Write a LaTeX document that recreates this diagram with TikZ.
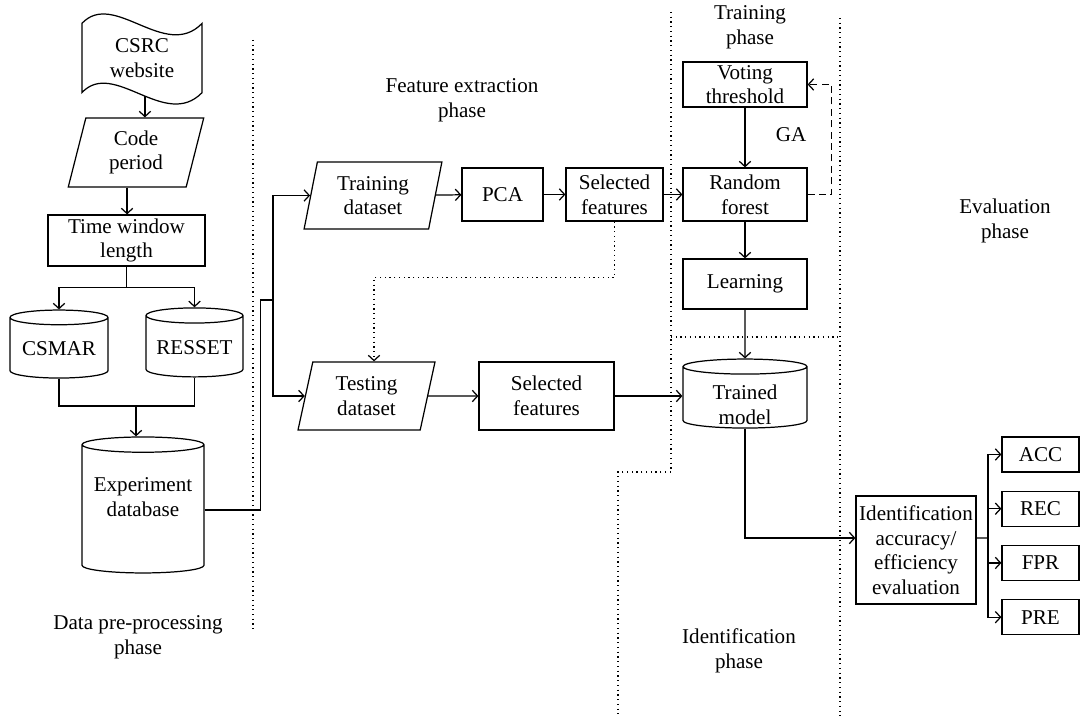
\documentclass[tikz,border=0pt]{standalone}
\usepackage{fontspec}
\setmainfont{Liberation Serif}
\usetikzlibrary{shapes.geometric,arrows.meta,positioning}
\tikzset{
    process/.style={
        draw,
        rectangle,
        align=center,
        inner sep=1pt
    },
    dataio/.style={
        draw,
        trapezium,
        trapezium left angle=78,
        trapezium right angle=102,
        trapezium stretches=true,
        align=center,
        inner sep=1pt
    },
    database/.style={
        draw,
        cylinder,
        shape border rotate=90,
        aspect=0.19,
        align=center,
        inner sep=1pt
    },
    caption/.style={
        align=center,
        inner sep=0pt
    },
    arrow/.style={
        ->,
        >={Straight Barb[length=3pt,width=6.5pt]}
    },
    dotarrow/.style={
        arrow,
        dotted
    },
    dasharrow/.style={
        arrow,
        dash pattern=on 4pt off 2.5pt
    },
    phase/.style={
        dotted
    }
}

\begin{document}
\begin{tikzpicture}[x=0.02cm, y=-0.02cm, line width=0.7pt, font=\fontsize{12}{14}\selectfont]
    \useasboundingbox (0,0) rectangle (1081,716);

    % Phase separators
    \draw[phase] (253,40) -- (253,630);
    \draw[phase] (671,12) -- (671,472) -- (618,472) -- (618,716);
    \draw[phase] (671,337) -- (840,337);
    \draw[phase] (840,18) -- (840,716);

    % Phase titles
    \node[caption] (preproc) at (138,637) {Data pre-processing\\phase};
    \node[caption] (featext) at (462,100) {Feature extraction\\phase};
    \node[caption] (trainph) at (750,27) {Training\\phase};
    \node[caption] (evalph) at (1005,221) {Evaluation\\phase};
    \node[caption] (identph) at (739,651) {Identification\\phase};

    % Data pre-processing
    \node[caption, minimum width=2.38cm, minimum height=1.36cm] (csrc) at (142,58) {CSRC\\website};
    \draw (csrc.north west) .. controls +(32,-34) and +(-37,38) .. (csrc.north east)
        -- (csrc.south east) .. controls +(-37,38) and +(32,-34) .. (csrc.south west) -- cycle;
    \node[dataio, minimum width=2.72cm, minimum height=1.38cm] (code) at (136,152.5) {Code\\period};
    \node[process, minimum width=3.14cm, minimum height=1.02cm] (twl) at (126.5,240.5) {Time window\\length};
    \node[database, minimum width=1.96cm, minimum height=1.36cm] (csmar) at (59,349) {CSMAR};
    \node[database, minimum width=1.94cm, minimum height=1.38cm] (resset) at (194.5,347.5) {RESSET};
    \node[database, aspect=0.15, minimum width=2.44cm, minimum height=2.72cm] (expdb) at (143,510) {\phantom{Experiment}};
    \node[caption] (expdbtext) at (143,497) {Experiment\\database};

    % Feature extraction
    \node[dataio, minimum width=2.76cm, minimum height=1.34cm] (train) at (373,195.5) {Training\\dataset};
    \node[process, minimum width=1.62cm, minimum height=1.06cm] (pca) at (502.5,194.5) {PCA};
    \node[process, minimum width=1.94cm, minimum height=1.06cm] (sel1) at (614.5,194.5) {Selected\\features};
    \node[dataio, minimum width=2.74cm, minimum height=1.36cm] (test) at (366.5,396) {Testing\\dataset};
    \node[process, minimum width=2.70cm, minimum height=1.36cm] (sel2) at (546.5,396) {Selected\\features};

    % Training
    \node[process, minimum width=2.48cm, minimum height=0.9cm] (vote) at (745,84.5) {Voting\\threshold};
    \node[process, minimum width=2.48cm, minimum height=1.06cm] (rf) at (745,194.5) {Random\\forest};
    \node[process, minimum width=2.48cm, minimum height=1cm] (learn) at (745,284) {Learning};
    \node[caption] (ga) at (791,135) {GA};

    % Identification and evaluation
    \node[database, aspect=0.22, minimum width=2.48cm, minimum height=1.38cm] (trained) at (745,398.5) {\phantom{Trained}};
    \node[caption] (trainedtext) at (745,405) {Trained\\model};
    \node[process, minimum width=2.4cm, minimum height=2.16cm] (ident) at (916,550) {Identification\\accuracy/\\efficiency\\evaluation};
    \node[process, minimum width=1.54cm, minimum height=0.7cm] (acc) at (1040.5,454.5) {ACC};
    \node[process, minimum width=1.54cm, minimum height=0.7cm, below=0.36cm of acc] (rec) {REC};
    \node[process, minimum width=1.54cm, minimum height=0.7cm, below=0.36cm of rec] (fpr) {FPR};
    \node[process, minimum width=1.54cm, minimum height=0.7cm, below=0.36cm of fpr] (pre) {PRE};

    % Connectors
    \coordinate (merge) at (136,406);
    \coordinate (fork) at (273,300);
    \coordinate (hub) at (988,538);
    \draw[arrow] ([yshift=-2pt]code.top side |- csrc.south) -- (code.top side);
    \draw[arrow] (code.bottom side) -- (code.bottom side |- twl.north);
    \draw[arrow] (twl.south) -- ++(0,21) -| (csmar.north);
    \draw[arrow] (twl.south) -- ++(0,21) -| (resset.north);
    \draw (csmar.south) |- (merge) -| (resset.south);
    \draw[arrow] (merge) -- (merge |- expdb.north);
    \draw (expdb.east) -- ++(56,0) |- (fork);
    \draw[arrow] (fork) |- (train);
    \draw[arrow] (fork) |- (test);
    \draw[arrow] (train) -- (pca);
    \draw[arrow] (pca) -- (sel1);
    \draw[arrow] (sel1) -- (rf);
    \draw[dotarrow] (sel1.south) -- ++(0,56) -| (test.top side);
    \draw[arrow] (test) -- (sel2);
    \draw[arrow] (sel2) -- (sel2 -| trained.west);
    \draw[arrow] (vote) -- (rf);
    \draw[dasharrow] (rf.east) -- ++(24,0) |- (vote.east);
    \draw[arrow] (rf) -- (learn);
    \draw[arrow] (learn) -- (trained);
    \draw[arrow] (trained.south) |- ([yshift=0.24cm]ident.west);
    \draw ([yshift=0.24cm]ident.east) -- (hub);
    \foreach \m in {acc,rec,fpr,pre}
        \draw[arrow] (hub) |- (\m);
\end{tikzpicture}
\end{document}
